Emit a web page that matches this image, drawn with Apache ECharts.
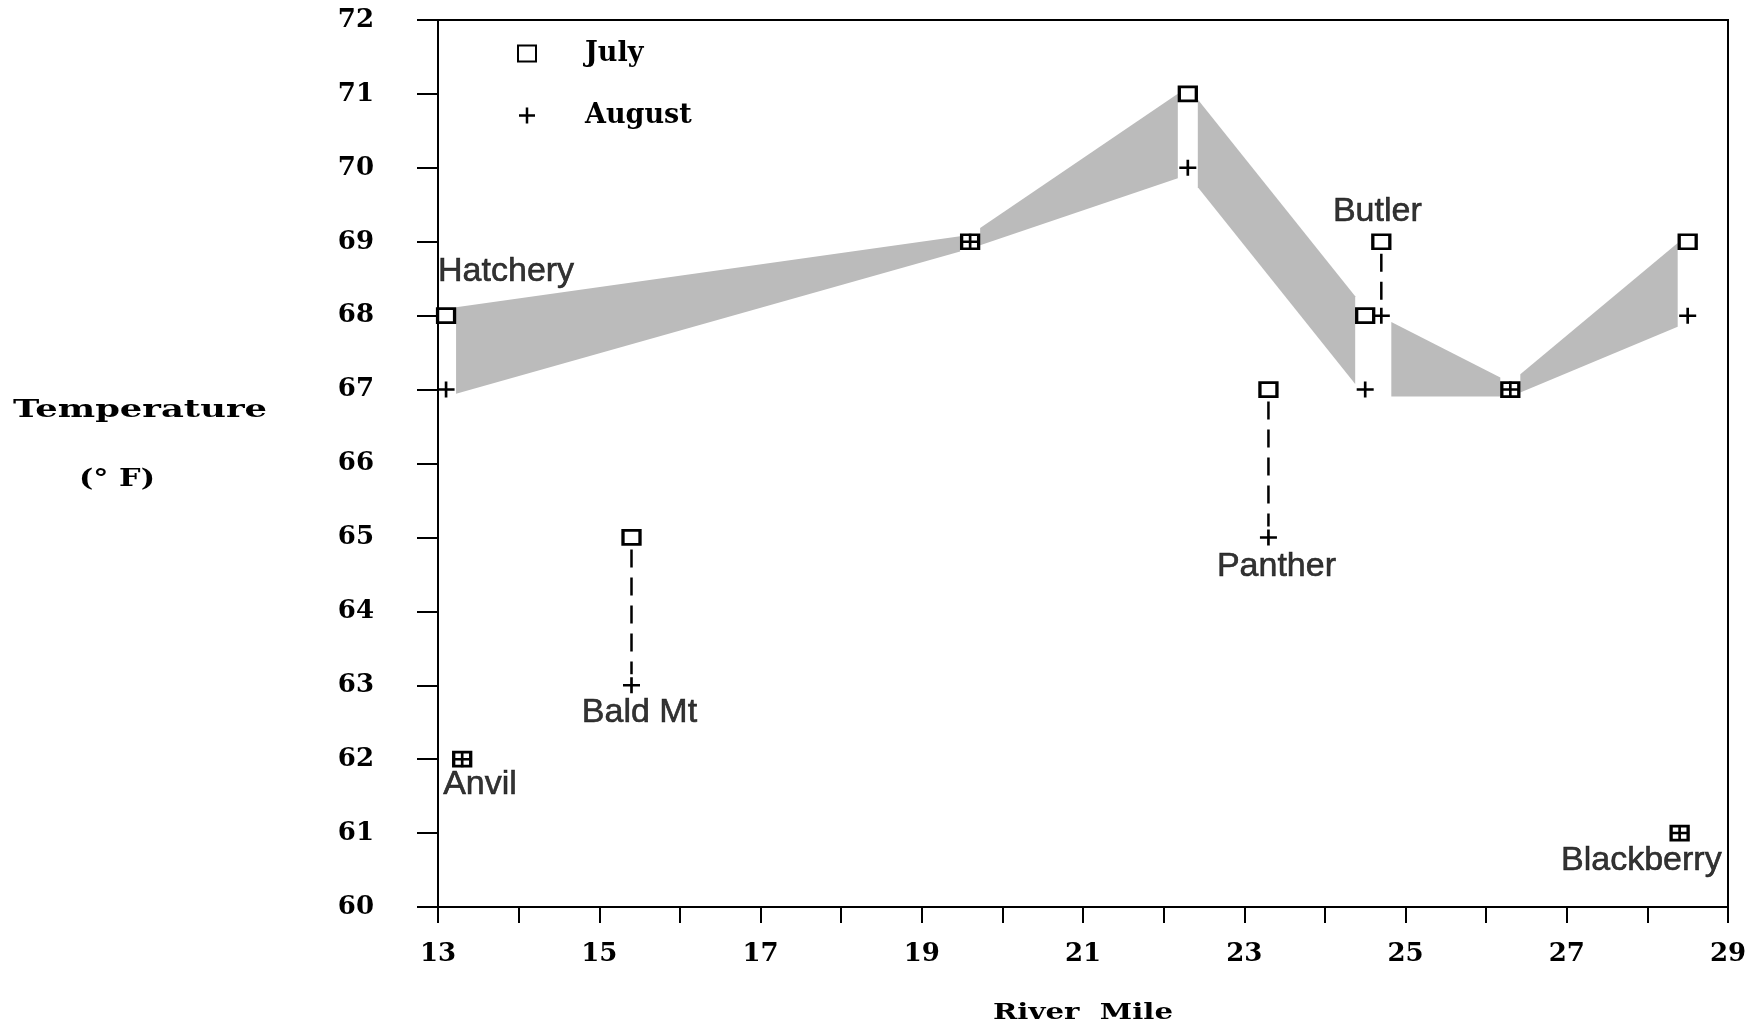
<!DOCTYPE html>
<html>
<head>
<meta charset="utf-8">
<title>River temperature, July and August</title>
<script src="https://cdn.jsdelivr.net/npm/echarts@6/dist/echarts.min.js"></script>
<style>
  html, body { margin: 0; padding: 0; background: #fff; }
  #chart { width: 1761px; height: 1029px; }
</style>
</head>
<body>
<div id="chart"></div>
<script>
// Main-stem stations, joined by the shaded July–August band
const mainNames = ['Hatchery', '', '', '', '', ''];
const mainMiles = [13.1, 19.6, 22.3, 24.5, 26.3, 28.5];
const mainJuly = [68, 69, 71, 68, 67, 69];
const mainAugust = [67, 69, 70, 67, 67, 68];

// Tributary stations
const tribNames = ['Anvil', 'Bald Mt', 'Panther', 'Butler', 'Blackberry'];
const tribMiles = [13.3, 15.4, 23.3, 24.7, 28.4];
const tribJuly = [62, 65, 67, 69, 61];
const tribAugust = [62, 63, 65, 68, 61];

// Axis tick labels
const xLabelMiles = [13, 15, 17, 19, 21, 23, 25, 27, 29];
const yLabelTemps = [60, 61, 62, 63, 64, 65, 66, 67, 68, 69, 70, 71, 72];

// ---- styling ----
const INK = '#000';
const BAND = '#bbbbbb';
const TYPE_FONT = '"DejaVu Serif", "Liberation Serif", serif';
const NAME_FONT = '"Liberation Sans", Arial, Helvetica, sans-serif';
const BAND_TRIM = 10;   // px kept clear around each station marker
const BAND_PAD = 7;     // px the band spreads beyond the July / August lines
// solid plus sign, arms 2.5 units thick in a 16-unit box
const PLUS = 'path://M0,6.75H6.75V0H9.25V6.75H16V9.25H9.25V16H6.75V9.25H0Z';

// where each station name sits relative to its marker
const labelPlacement = {
  'Hatchery':   { on: 'july',   align: 'left',   offset: [-8, -44] },
  'Anvil':      { on: 'august', align: 'left',   offset: [-19, 25] },
  'Bald Mt':    { on: 'august', align: 'center', offset: [8, 27] },
  'Panther':    { on: 'august', align: 'center', offset: [8, 29] },
  'Butler':     { on: 'july',   align: 'center', offset: [-4, -30] },
  'Blackberry': { on: 'august', align: 'right',  offset: [42, 28] }
};

const allNames = mainNames.concat(tribNames);
const allMiles = mainMiles.concat(tribMiles);
const allJuly = mainJuly.concat(tribJuly);
const allAugust = mainAugust.concat(tribAugust);

const julyData = allMiles.map((m, i) => [m, allJuly[i]]);
const augustData = allMiles.map((m, i) => [m, allAugust[i]]);

const nameData = allNames
  .map((n, i) => ({ n, i }))
  .filter(d => d.n && labelPlacement[d.n])
  .map(({ n, i }) => {
    const p = labelPlacement[n];
    return {
      name: n,
      value: [allMiles[i], p.on === 'july' ? allJuly[i] : allAugust[i]],
      label: { align: p.align, offset: p.offset }
    };
  });

// band segments between consecutive main-stem stations
const bandData = mainMiles.slice(0, -1).map((m, i) => [m, mainJuly[i], i]);

// dashed July-to-August connectors at tributaries that changed
const connectorData = tribMiles
  .map((m, i) => [m, tribJuly[i], tribAugust[i]])
  .filter(d => d[1] !== d[2]);

function renderBand(params, api) {
  const i = api.value(2);
  const x0 = mainMiles[i], x1 = mainMiles[i + 1];
  const j0 = api.coord([x0, mainJuly[i]]), j1 = api.coord([x1, mainJuly[i + 1]]);
  const a0 = api.coord([x0, mainAugust[i]]), a1 = api.coord([x1, mainAugust[i + 1]]);
  const f = m => (m - x0) / (x1 - x0);
  const topAt = m => mainJuly[i] + f(m) * (mainJuly[i + 1] - mainJuly[i]);
  const botAt = m => mainAugust[i] + f(m) * (mainAugust[i + 1] - mainAugust[i]);

  // tributary markers that sit inside the band break it
  const cuts = [x0];
  tribMiles.forEach((m, k) => {
    if (m > x0 && m < x1) {
      const lo = botAt(m) - 0.3, hi = topAt(m) + 0.3;
      if ([tribJuly[k], tribAugust[k]].some(v => v >= lo && v <= hi)) cuts.push(m);
    }
  });
  cuts.push(x1);
  const px = cuts.map(m => api.coord([m, 60])[0]);

  const yTop = x => j0[1] + (x - j0[0]) / (j1[0] - j0[0]) * (j1[1] - j0[1]);
  const yBot = x => a0[1] + (x - a0[0]) / (a1[0] - a0[0]) * (a1[1] - a0[1]);

  const children = [];
  for (let k = 0; k < px.length - 1; k++) {
    const a = px[k] + BAND_TRIM, b = px[k + 1] - BAND_TRIM;
    if (b <= a) continue;
    children.push({
      type: 'polygon',
      shape: {
        points: [
          [a, yTop(a) - BAND_PAD], [b, yTop(b) - BAND_PAD],
          [b, yBot(b) + BAND_PAD], [a, yBot(a) + BAND_PAD]
        ]
      },
      style: { fill: BAND, stroke: null }
    });
  }
  return { type: 'group', children };
}

function renderConnector(params, api) {
  const p1 = api.coord([api.value(0), api.value(1)]);
  const p2 = api.coord([api.value(0), api.value(2)]);
  return {
    type: 'line',
    shape: { x1: p1[0], y1: p1[1] + 12, x2: p2[0], y2: p2[1] - 11 },
    style: { stroke: INK, lineWidth: 2.5, lineDash: [18, 10] }
  };
}

// wide typewriter-style titles: stretch a bold serif to the set width
const measureCtx = document.createElement('canvas').getContext('2d');
function stretchedText(text, fontPx, cx, cy, width) {
  const font = 'bold ' + fontPx + 'px ' + TYPE_FONT;
  measureCtx.font = font;
  const w = measureCtx.measureText(text).width;
  return {
    type: 'text', x: cx, y: cy, scaleX: width / w,
    style: { text, font, fill: INK, align: 'center', verticalAlign: 'middle' }
  };
}

const chart = echarts.init(document.getElementById('chart'), null, { renderer: 'canvas' });

chart.setOption({
  backgroundColor: '#fff',
  animation: false,
  grid: {
    left: 438, right: 33, top: 20, bottom: 122,
    show: true, borderColor: INK, borderWidth: 2, backgroundColor: 'transparent'
  },
  legend: {
    data: ['July', 'August'],
    orient: 'vertical',
    left: 517, top: 40,
    padding: 0,
    itemWidth: 18, itemHeight: 16, itemGap: 35,
    selectedMode: false,
    textStyle: {
      fontFamily: TYPE_FONT, fontWeight: 'bold', fontSize: 27, color: INK,
      padding: [0, 0, 0, 44]
    }
  },
  xAxis: {
    type: 'value', min: 13, max: 29, interval: 1,
    axisLine: { lineStyle: { color: INK, width: 2 } },
    axisTick: { length: 16, lineStyle: { color: INK, width: 2 } },
    splitLine: { show: false },
    axisLabel: {
      showMinLabel: true, showMaxLabel: true,
      formatter: v => (xLabelMiles.includes(v) ? String(v) : ''),
      margin: 34, color: INK, fontFamily: TYPE_FONT, fontWeight: 'bold', fontSize: 26
    }
  },
  yAxis: {
    type: 'value', min: 60, max: 72, interval: 1,
    axisLine: { lineStyle: { color: INK, width: 2 } },
    axisTick: { length: 21, lineStyle: { color: INK, width: 2 } },
    splitLine: { show: false },
    axisLabel: {
      showMinLabel: true, showMaxLabel: true,
      formatter: v => (yLabelTemps.includes(v) ? String(v) : ''),
      margin: 64, color: INK, fontFamily: TYPE_FONT, fontWeight: 'bold', fontSize: 26
    }
  },
  graphic: [
    stretchedText('Temperature', 25, 140, 410, 254),
    stretchedText('(° F)', 25, 117, 479, 76),
    stretchedText('River  Mile', 22, 1083, 1013, 180)
  ],
  series: [
    {
      name: 'band', type: 'custom', renderItem: renderBand,
      data: bandData, encode: { x: 0, y: 1 }, z: 1, silent: true
    },
    {
      name: 'connector', type: 'custom', renderItem: renderConnector,
      data: connectorData, encode: { x: 0, y: 1 }, z: 2, silent: true
    },
    {
      name: 'July', type: 'scatter', data: julyData, z: 3,
      symbol: 'rect', symbolSize: [17, 14],
      itemStyle: { color: '#fff', borderColor: INK, borderWidth: 3, opacity: 1 }
    },
    {
      name: 'August', type: 'scatter', data: augustData, z: 4,
      symbol: PLUS, symbolSize: [17, 16],
      itemStyle: { color: INK, borderWidth: 0, opacity: 1 }
    },
    {
      name: 'station', type: 'scatter', data: nameData, z: 5, silent: true,
      symbol: 'circle', symbolSize: 1,
      itemStyle: { color: 'rgba(0,0,0,0)' },
      label: {
        show: true, position: 'inside', formatter: '{b}',
        verticalAlign: 'middle', color: INK,
        textBorderColor: INK, textBorderWidth: 0.6,
        fontFamily: NAME_FONT, fontSize: 34
      }
    }
  ]
});
</script>
</body>
</html>
